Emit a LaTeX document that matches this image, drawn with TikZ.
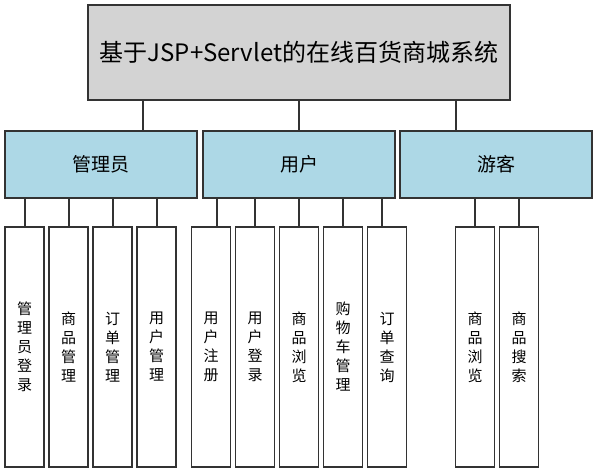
\documentclass[tikz,border=0pt]{standalone}
\usepackage{xcolor}
\usepackage{fontspec}
\setmainfont{Noto Sans CJK SC}
\usepackage{tikz}
\usetikzlibrary{positioning}
\definecolor{topgray}{HTML}{D3D3D3}
\definecolor{midblue}{HTML}{ADD8E6}
\definecolor{linegray}{HTML}{333333}

\begin{document}
\begin{tikzpicture}[node distance=44pt, line width=1.8pt, draw=linegray,
    top node/.style={rectangle,draw=linegray,fill=topgray,minimum width=422pt,minimum height=95pt,inner sep=0pt,font=\fontsize{24}{28}\selectfont},
    mid node/.style={rectangle,draw=linegray,fill=midblue,minimum width=192pt,minimum height=67pt,inner sep=0pt,font=\fontsize{19}{22}\selectfont},
    main node/.style={rectangle,draw=linegray,fill=white,minimum width=39pt,minimum height=240pt,inner sep=0pt,align=center,font=\fontsize{15}{19}\selectfont}]
                \useasboundingbox (0pt,0pt) rectangle (598pt,-473pt);

                \node[top node] (0) at (299pt,-52.5pt) {基于JSP+Servlet的在线百货商城系统};
                \node[mid node] (2) [below of=0, node distance=112pt] {用户};
                \node[mid node] (1) [left of=2, node distance=198pt] {管理员};
                \node[mid node] (3) [right of=2, node distance=197pt] {游客};

                % 管理员
                \node[main node] (11) at (24.5pt,-347pt) {管\\理\\员\\登\\录};
                \node[main node] (12) [right of=11] {商\\品\\管\\理};
                \node[main node] (13) [right of=12] {订\\单\\管\\理};
                \node[main node] (14) [right of=13] {用\\户\\管\\理};
                % 用户
                \node[main node] (21) at (211pt,-347pt) {用\\户\\注\\册};
                \node[main node] (22) [right of=21] {用\\户\\登\\录};
                \node[main node] (23) [right of=22] {商\\品\\浏\\览};
                \node[main node] (24) [right of=23] {购\\物\\车\\管\\理};
                \node[main node] (25) [right of=24] {订\\单\\查\\询};
                % 游客
                \node[main node] (31) at (475pt,-347pt) {商\\品\\浏\\览};
                \node[main node] (32) [right of=31] {商\\品\\搜\\索};

                \draw[linegray] ([xshift=42pt]1.north) -- ([xshift=42pt]1.north |- 0.south);
                \draw[linegray] (2.north) -- (0.south);
                \draw[linegray] ([xshift=-40pt]3.north) -- ([xshift=-40pt]3.north |- 0.south);

                \foreach \i in {11,12,13,14}
                    \draw[linegray] ([xshift=0.5pt]\i.north) -- ([xshift=0.5pt]\i.north |- 1.south);
                \foreach \i in {22,23,24}
                    \draw[linegray] (\i.north) -- (\i.north |- 2.south);
                \draw[linegray] ([xshift=6pt]21.north) -- ([xshift=6pt]21.north |- 2.south);
                \draw[linegray] ([xshift=-5pt]25.north) -- ([xshift=-5pt]25.north |- 2.south);
                \foreach \i in {31,32}
                    \draw[linegray] (\i.north) -- (\i.north |- 3.south);
            \end{tikzpicture}
\end{document}
